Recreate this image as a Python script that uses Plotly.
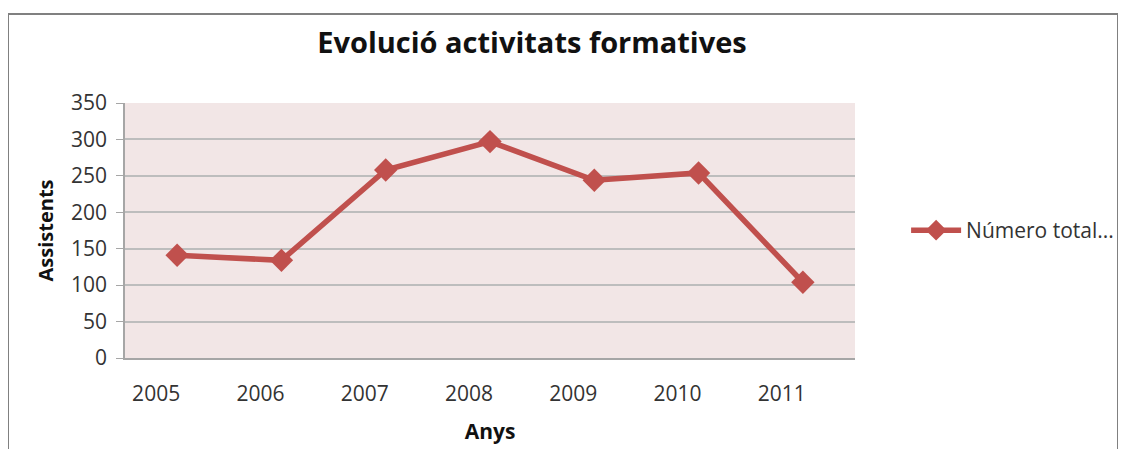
import plotly.graph_objects as go

years = ["2005", "2006", "2007", "2008", "2009", "2010", "2011"]
assistents = [141, 134, 258, 297, 244, 254, 104]
series_name = "Número total..."

fig = go.Figure()
fig.add_trace(go.Scatter(
    x=years, y=assistents, mode="lines+markers", name=series_name,
    line=dict(color="#C0504D", width=5.5),
    marker=dict(symbol="diamond", size=18, color="#C0504D"),
))

font_family = "'Open Sans', sans-serif"
L, T, W, H = 117, 95, 730, 255
fig.update_layout(
    width=1126, height=449,
    margin=dict(l=L, r=1126 - L - W, t=T, b=449 - T - H),
    paper_bgcolor="white",
    plot_bgcolor="#F2E6E6",
    font=dict(family=font_family, size=20, color="#333333"),
    title=dict(text="<b>Evolució activitats formatives</b>", x=(532 - 8) / 1126, xanchor="center",
               y=1 - (43 - 8) / 449, yanchor="middle", font=dict(size=29, color="#111111")),
    showlegend=True,
    legend=dict(x=1.07, xanchor="left", y=0.5, yanchor="middle",
                font=dict(size=21, color="#333333"), bgcolor="rgba(0,0,0,0)",
                itemwidth=50, tracegroupgap=0),
    xaxis=dict(type="category", range=[-0.5, 6.5], showgrid=False,
               showline=True, linecolor="#A6A6A6", linewidth=1.5,
               ticks="", tickfont=dict(size=21, color="#333333"), ticklabelshift=-21,
               ticklabelstandoff=16,
               title=dict(text="<b>Anys</b>", font=dict(size=21, color="#111111"), standoff=18)),
    yaxis=dict(range=[0, 350], dtick=50, showgrid=True, gridcolor="#BDBDBD", gridwidth=1.5,
               showline=True, linecolor="#A6A6A6", linewidth=1.5,
               ticks="outside", ticklen=7, tickcolor="#A6A6A6",
               tickfont=dict(size=21, color="#333333"), zeroline=False, ticklabelstandoff=5,
               title=dict(text="<b>Assistents</b>", font=dict(size=20, color="#111111"), standoff=12)),
    shapes=[dict(type="rect", xref="paper", yref="paper",
                 x0=(8 - 125) / W, x1=(1118 - 125) / W,
                 y0=(358 - 470) / H, y1=(358 - 14) / H,
                 line=dict(color="#808080", width=2), layer="below")],
)

fig.write_html("out.html")
